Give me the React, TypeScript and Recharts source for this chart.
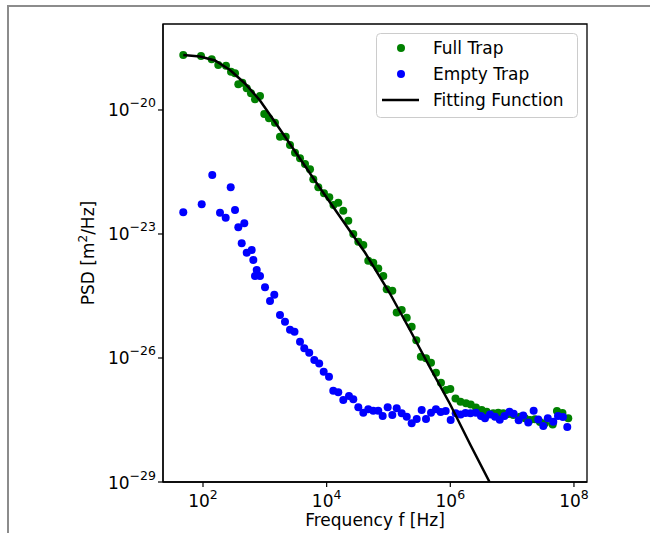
import React from 'react';
import { ComposedChart, Scatter, XAxis, YAxis, Legend, Label, ReferenceArea } from 'recharts';

// log10(frequency / Hz) and log10(PSD / (m^2/Hz))
const fullTrapFreqExp = [
  1.681, 1.968, 2.141, 2.247, 2.372, 2.453, 2.518, 2.571, 2.636, 2.707,
  2.776, 2.841, 2.922, 2.991, 3.067, 3.164, 3.245, 3.338, 3.407, 3.488,
  3.569, 3.650, 3.731, 3.784, 3.865, 3.957, 4.043, 4.111, 4.188, 4.269,
  4.350, 4.431, 4.512, 4.593, 4.673, 4.754, 4.835, 4.916, 4.971, 5.062,
  5.133, 5.214, 5.295, 5.375, 5.450, 5.523, 5.607, 5.688, 5.768, 5.849,
  5.930, 6.000, 6.084, 6.165, 6.254, 6.330, 6.415, 6.508, 6.588, 6.695,
  6.776, 6.857, 6.938, 7.019, 7.127, 7.208, 7.289, 7.370, 7.450, 7.531,
  7.656, 7.725, 7.814, 7.908,
];
const fullTrapPsdExp = [
  -18.669, -18.693, -18.773, -18.911, -18.928, -19.073, -19.112, -19.378, -19.339, -19.475,
  -19.596, -19.741, -19.661, -20.097, -20.201, -20.307, -20.646, -20.646, -20.847, -21.033,
  -21.169, -21.307, -21.435, -21.677, -21.870, -22.015, -22.112, -22.299, -22.243, -22.436,
  -22.678, -23.000, -23.187, -23.266, -23.646, -23.695, -23.835, -24.016, -24.338, -24.372,
  -24.900, -24.839, -25.025, -25.243, -25.572, -25.969, -26.008, -26.114, -26.356, -26.598,
  -26.775, -26.751, -26.980, -27.058, -27.097, -27.126, -27.198, -27.259, -27.300, -27.339,
  -27.324, -27.339, -27.355, -27.380, -27.421, -27.459, -27.501, -27.484, -27.549, -27.581,
  -27.609, -27.283, -27.331, -27.459,
];

const emptyTrapFreqExp = [
  1.681, 1.979, 2.150, 2.275, 2.367, 2.448, 2.518, 2.571, 2.626, 2.668,
  2.707, 2.788, 2.814, 2.841, 2.869, 2.922, 3.003, 3.084, 3.153, 3.245,
  3.326, 3.407, 3.480, 3.569, 3.638, 3.718, 3.800, 3.879, 3.952, 4.038,
  4.107, 4.188, 4.269, 4.361, 4.431, 4.512, 4.593, 4.673, 4.754, 4.835,
  4.906, 4.987, 5.062, 5.133, 5.214, 5.295, 5.375, 5.456, 5.537, 5.607,
  5.688, 5.768, 5.844, 5.925, 6.006, 6.087, 6.168, 6.246, 6.326, 6.415,
  6.496, 6.561, 6.642, 6.723, 6.800, 6.876, 6.957, 7.025, 7.106, 7.180,
  7.261, 7.348, 7.423, 7.504, 7.577, 7.666, 7.742, 7.822, 7.892,
];
const emptyTrapPsdExp = [
  -22.475, -22.282, -21.573, -22.485, -22.606, -21.870, -22.420, -22.838, -23.225, -22.741,
  -23.453, -23.387, -23.629, -24.016, -23.871, -24.016, -24.290, -24.621, -24.469, -24.960,
  -25.122, -25.316, -25.364, -25.606, -25.766, -25.872, -26.049, -26.134, -26.332, -26.453,
  -26.792, -26.830, -27.017, -26.920, -27.000, -27.193, -27.324, -27.242, -27.276, -27.276,
  -27.404, -27.193, -27.380, -27.218, -27.339, -27.421, -27.581, -27.476, -27.259, -27.476,
  -27.324, -27.242, -27.307, -27.283, -27.501, -27.339, -27.368, -27.331, -27.339, -27.324,
  -27.404, -27.459, -27.368, -27.421, -27.493, -27.404, -27.300, -27.348, -27.508, -27.392,
  -27.561, -27.276, -27.488, -27.646, -27.459, -27.542, -27.404, -27.428, -27.670,
];

const fitFreqExp = [
  1.681, 1.951, 2.194, 2.437, 2.679, 2.922, 3.164, 3.407, 3.650, 3.892,
  4.135, 4.377, 4.620, 5.024, 5.348, 5.671, 5.995, 6.318, 6.635,
];
const fitPsdExp = [
  -18.669, -18.706, -18.802, -19.032, -19.359, -19.770, -20.290, -20.823, -21.355, -21.887,
  -22.407, -22.928, -23.448, -24.440, -25.323, -26.230, -27.113, -28.081, -29.000,
];

const xTickExps = [2, 4, 6, 8];
const yTickExps = [-29, -26, -23, -20];
const seriesNames = ['Full Trap', 'Empty Trap', 'Fitting Function'];
const seriesColors = ['#008000', '#0000ff', '#000000'];

const toPoints = (xs: number[], ys: number[]) => xs.map((x, i) => ({ x, y: ys[i] }));
const fullTrapData = toPoints(fullTrapFreqExp, fullTrapPsdExp);
const emptyTrapData = toPoints(emptyTrapFreqExp, emptyTrapPsdExp);
const fitData = toPoints(fitFreqExp, fitPsdExp);

const FONT = 'DejaVu Sans';
const X_DOMAIN: [number, number] = [1.353, 8.211];
const Y_DOMAIN: [number, number] = [-29, -17.92];
const DOT_R = 4;

const XTick = (props: any) => {
  const { x, y, payload } = props;
  return (
    <text x={x} y={y + 18} textAnchor="middle" fontFamily={FONT} fontSize={17} fill="#000">
      10<tspan dy={-8} fontSize={12.5}>{String(payload.value)}</tspan>
    </text>
  );
};

const YTick = (props: any) => {
  const { x, y, payload } = props;
  const v = payload.value as number;
  const s = (v < 0 ? '\u2212' : '') + Math.abs(v);
  return (
    <text x={x} y={y + 6.5} textAnchor="end" fontFamily={FONT} fontSize={17} fill="#000">
      10<tspan dy={-9} fontSize={12.5}>{s}</tspan>
    </text>
  );
};

const XLabel = (props: any) => {
  const vb = props.viewBox || { x: 163, y: 482, width: 424, height: 51 };
  return (
    <text x={vb.x + vb.width / 2} y={vb.y + 44} textAnchor="middle" fontFamily={FONT} fontSize={17} fill="#000">
      Frequency f [Hz]
    </text>
  );
};

const YLabel = (props: any) => {
  const vb = props.viewBox || { x: 0, y: 24, width: 163, height: 458 };
  const cx = 94;
  const cy = vb.y + vb.height / 2;
  return (
    <text x={cx} y={cy} textAnchor="middle" transform={`rotate(-90, ${cx}, ${cy})`} fontFamily={FONT} fontSize={17} fill="#000">
      PSD [m<tspan dy={-7} fontSize={12}>2</tspan><tspan dy={7} fontSize={17}>/Hz]</tspan>
    </text>
  );
};

const LegendBox = () => {
  const rows = [15, 41, 67];
  return (
    <svg width={203} height={86} style={{ display: 'block' }}>
      <rect x={0.5} y={0.5} width={201} height={84} rx={4} ry={4} fill="#ffffff" fillOpacity={0.85} stroke="#cccccc" strokeWidth={1} />
      <circle cx={25} cy={rows[0]} r={DOT_R} fill={seriesColors[0]} />
      <circle cx={25} cy={rows[1]} r={DOT_R} fill={seriesColors[1]} />
      <line x1={6} x2={43} y1={rows[2]} y2={rows[2]} stroke={seriesColors[2]} strokeWidth={2.5} />
      {seriesNames.map((n, i) => (
        <text key={n} x={57} y={rows[i] + 6} fontFamily={FONT} fontSize={17} fill="#000">{n}</text>
      ))}
    </svg>
  );
};

const makeDot = (color: string) => (p: any) => (
  <circle cx={p.cx} cy={p.cy} r={DOT_R} fill={color} />
);
const noDot = () => <g />;

export default function App() {
  return (
    <div style={{ position: 'absolute', left: 0, top: 0, width: 650, height: 533, background: '#fff', overflow: 'hidden' }}>
      <div style={{ position: 'absolute', left: 8, top: 5, width: 642, height: 2, background: '#8c8c8c' }} />
      <div style={{ position: 'absolute', left: 7, top: 5, width: 2, height: 528, background: '#8c8c8c' }} />
      <div style={{ position: 'absolute', left: 0, top: 0 }}>
        <ComposedChart width={650} height={533} margin={{ top: 24, right: 63, bottom: 0, left: 0 }}>
          <XAxis
            type="number"
            dataKey="x"
            domain={X_DOMAIN}
            ticks={xTickExps}
            interval={0}
            tick={<XTick />}
            tickSize={5}
            height={51}
            allowDataOverflow
            axisLine={{ stroke: '#000', strokeWidth: 1.3 }}
            tickLine={{ stroke: '#000', strokeWidth: 1.2 }}
          >
            <Label content={<XLabel />} />
          </XAxis>
          <YAxis
            type="number"
            dataKey="y"
            domain={Y_DOMAIN}
            ticks={yTickExps}
            interval={0}
            tick={<YTick />}
            tickSize={5}
            width={163}
            allowDataOverflow
            axisLine={{ stroke: '#000', strokeWidth: 1.3 }}
            tickLine={{ stroke: '#000', strokeWidth: 1.2 }}
          >
            <Label content={<YLabel />} />
          </YAxis>
          <ReferenceArea
            x1={X_DOMAIN[0]}
            x2={X_DOMAIN[1]}
            y1={Y_DOMAIN[0]}
            y2={Y_DOMAIN[1]}
            fill="none"
            fillOpacity={0}
            stroke="#000"
            strokeWidth={1.3}
            ifOverflow="extendDomain"
          />
          <Legend
            layout="horizontal"
            verticalAlign="middle"
            align="center"
            content={() => <LegendBox />}
            wrapperStyle={{ left: 376, top: 33, width: 203, height: 86 }}
          />
          <Scatter name={seriesNames[0]} data={fullTrapData} fill={seriesColors[0]} shape={makeDot(seriesColors[0])} isAnimationActive={false} />
          <Scatter name={seriesNames[1]} data={emptyTrapData} fill={seriesColors[1]} shape={makeDot(seriesColors[1])} isAnimationActive={false} />
          <Scatter
            name={seriesNames[2]}
            data={fitData}
            fill={seriesColors[2]}
            line={{ stroke: seriesColors[2], strokeWidth: 2.5 }}
            shape={noDot}
            isAnimationActive={false}
          />
        </ComposedChart>
      </div>
    </div>
  );
}
